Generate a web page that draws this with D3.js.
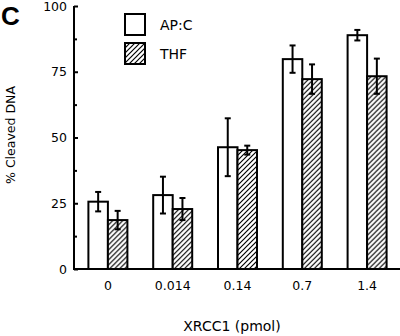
<!DOCTYPE html>
<html><head><meta charset="utf-8">
<script src="https://cdn.jsdelivr.net/npm/d3@7"></script>
<style>body{margin:0;background:#fff}svg{display:block}</style>
</head><body>
<svg id="c" width="400" height="336"></svg>
<script>
const categories = ["0", "0.014", "0.14", "0.7", "1.4"];
const series = ["AP:C", "THF"];
const apcValues = [25.6, 28.1, 46.3, 79.8, 88.9];
const apcErrors = [3.7, 7, 11, 5.2, 2];
const thfValues = [18.6, 22.8, 45.2, 72.2, 73.3];
const thfErrors = [3.5, 4.2, 1.7, 5.6, 6.7];
const yTicks = [0, 25, 50, 75, 100];
const yMinorTicks = [12.5, 37.5, 62.5, 87.5];

const svg = d3.select("#c");
const font = "DejaVu Sans, sans-serif";

// hatch pattern
const defs = svg.append("defs");
const pat = defs.append("pattern").attr("id", "hatch").attr("patternUnits", "userSpaceOnUse")
  .attr("width", 5).attr("height", 5);
pat.append("rect").attr("width", 5).attr("height", 5).attr("fill", "#fff");
pat.append("path").attr("d", "M-1,1 l2,-2 M0,5 l5,-5 M4,6 l2,-2").attr("stroke", "#000").attr("stroke-width", 1.2);

const y = d3.scaleLinear().domain([0, 100]).range([269, 6]);
const x = d3.scaleBand().domain(categories).range([75.5, 399.5]).padding(0);
const x1 = d3.scaleBand().domain(series).range([0, 39]);
const off = x.bandwidth() / 2 - 19.5;

const data = categories.map((c, i) => ({c, vals: [
  {s: "AP:C", v: apcValues[i], e: apcErrors[i]},
  {s: "THF", v: thfValues[i], e: thfErrors[i]}
]}));

const g = svg.append("g");
const groups = g.selectAll("g.grp").data(data).join("g")
  .attr("transform", d => `translate(${x(d.c) + off},0)`);
groups.selectAll("rect").data(d => d.vals).join("rect")
  .attr("x", d => x1(d.s)).attr("width", x1.bandwidth())
  .attr("y", d => y(d.v)).attr("height", d => y(0) - y(d.v))
  .attr("fill", d => d.s === "THF" ? "url(#hatch)" : "#fff")
  .attr("stroke", "#000").attr("stroke-width", 2);
// error bars
const eb = groups.selectAll("g.eb").data(d => d.vals).join("g")
  .attr("transform", d => `translate(${x1(d.s) + x1.bandwidth() / 2},0)`);
eb.append("line").attr("y1", d => y(d.v + d.e)).attr("y2", d => y(d.v - d.e))
  .attr("stroke", "#000").attr("stroke-width", 2);
eb.append("line").attr("x1", -3).attr("x2", 3).attr("y1", d => y(d.v + d.e)).attr("y2", d => y(d.v + d.e))
  .attr("stroke", "#000").attr("stroke-width", 2);
eb.append("line").attr("x1", -3).attr("x2", 3).attr("y1", d => y(d.v - d.e)).attr("y2", d => y(d.v - d.e))
  .attr("stroke", "#000").attr("stroke-width", 2);

// y axis
const yAxis = d3.axisRight(y).tickValues(yTicks).tickSize(4).tickFormat("");
const ya = svg.append("g").attr("transform", "translate(74,0)").call(yAxis);
ya.select(".domain").attr("stroke-width", 2).attr("d", `M0,${y(100)}V${y(0)}`);
ya.selectAll(".tick line").attr("stroke-width", 2);
const yMinor = d3.axisRight(y).tickValues(yMinorTicks).tickSize(3).tickFormat("");
const ym = svg.append("g").attr("transform", "translate(74,0)").call(yMinor);
ym.select(".domain").remove();
ym.selectAll(".tick line").attr("stroke-width", 2);
svg.append("g").selectAll("text").data(yTicks).join("text")
  .attr("x", 67).attr("y", d => y(d)).attr("dy", "0.36em")
  .attr("text-anchor", "end").attr("font-family", font).attr("font-size", 12.5)
  .text(d => d);

// x axis
const xAxis = d3.axisBottom(x).tickSize(0).tickPadding(12);
const xa = svg.append("g").attr("transform", `translate(0,${y(0)})`).call(xAxis);
xa.select(".domain").attr("stroke-width", 2).attr("d", `M73,0H400`);
xa.selectAll(".tick text").attr("font-family", font).attr("font-size", 12.5).attr("fill", "#000");

// axis titles
svg.append("text").attr("x", 232).attr("y", 331).attr("text-anchor", "middle")
  .attr("font-family", font).attr("font-size", 14).text("XRCC1 (pmol)");
svg.append("text").attr("transform", "translate(15,135) rotate(-90)").attr("text-anchor", "middle")
  .attr("font-family", font).attr("font-size", 12.5).text("% Cleaved DNA");

// panel letter
svg.append("text").attr("x", 1).attr("y", 25).attr("font-family", "Liberation Sans, Arial, sans-serif")
  .attr("font-weight", "bold").attr("font-size", 26).text("C");

// legend
const leg = svg.append("g").selectAll("g").data(series).join("g")
  .attr("transform", (d, i) => `translate(125,${14 + i * 29})`);
leg.append("rect").attr("width", 20).attr("height", 21)
  .attr("fill", d => d === "THF" ? "url(#hatch)" : "#fff").attr("stroke", "#000").attr("stroke-width", 2);
leg.append("text").attr("x", 35).attr("y", 11).attr("dy", "0.36em")
  .attr("font-family", font).attr("font-size", 14).text(d => d);
</script>
</body></html>
